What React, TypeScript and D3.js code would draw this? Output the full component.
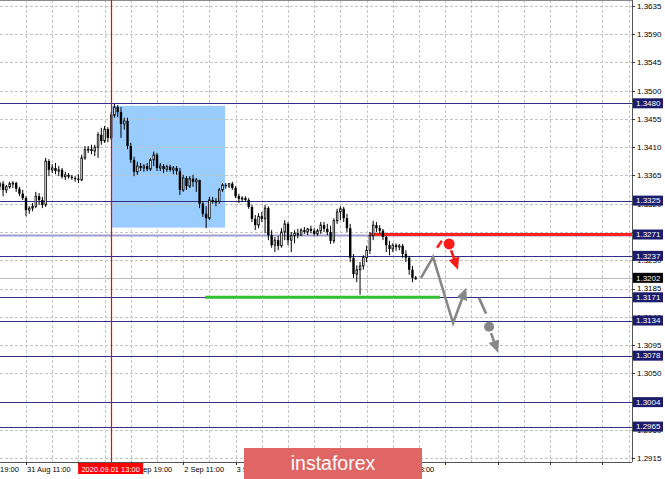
import React from 'react';
import * as d3 from 'd3';

const W = 665;
const H = 479;

// Bar index 0 = 31 Aug 03:00 (H1 bars)
const timeLabelBars = [-8, 8, 40, 56, 72, 120];
const timeLabels = ['30 Aug 19:00', '31 Aug 11:00', '1 Sep 19:00', '2 Sep 11:00', '3 Sep 03:00', '7 Sep 03:00'];

const open = [
  1.3348, 1.3352, 1.3342, 1.3347, 1.3352, 1.3353, 1.3344, 1.3336, 1.3329, 1.3310,
  1.3313, 1.3316, 1.3332, 1.3326, 1.3318, 1.3388, 1.3374, 1.3377, 1.3372, 1.3374,
  1.3363, 1.3366, 1.3363, 1.3361, 1.3360, 1.3358, 1.3393, 1.3406, 1.3407, 1.3404,
  1.3410, 1.3430, 1.3420, 1.3439, 1.3425, 1.3461, 1.3474, 1.3466, 1.3447, 1.3452,
  1.3412, 1.3390, 1.3371, 1.3380, 1.3377, 1.3380, 1.3375, 1.3390, 1.3398, 1.3377,
  1.3380, 1.3375, 1.3379, 1.3374, 1.3377, 1.3372, 1.3342, 1.3361, 1.3348, 1.3360,
  1.3355, 1.3358, 1.3320, 1.3304, 1.3297, 1.3326, 1.3323, 1.3324, 1.3342, 1.3350,
  1.3348, 1.3352, 1.3345, 1.3332, 1.3328, 1.3329, 1.3326, 1.3315, 1.3296, 1.3286,
  1.3300, 1.3296, 1.3313, 1.3270, 1.3254, 1.3262, 1.3253, 1.3275, 1.3288, 1.3262,
  1.3269, 1.3273, 1.3270, 1.3278, 1.3275, 1.3280, 1.3277, 1.3272, 1.3277, 1.3286,
  1.3280, 1.3275, 1.3261, 1.3293, 1.3307, 1.3312, 1.3297, 1.3281, 1.3234, 1.3208,
  1.3215, 1.3221, 1.3234, 1.3246, 1.3269, 1.3286, 1.3281, 1.3277, 1.3267, 1.3254,
  1.3248, 1.3254, 1.3251, 1.3253, 1.3240, 1.3234, 1.3215, 1.3202,
];
const high = [
  1.3355, 1.3356, 1.3350, 1.3355, 1.3356, 1.3355, 1.3347, 1.3342, 1.3332, 1.3316,
  1.3321, 1.3339, 1.3337, 1.3331, 1.3393, 1.3391, 1.3383, 1.3385, 1.3380, 1.3377,
  1.3371, 1.3369, 1.3366, 1.3364, 1.3367, 1.3398, 1.3412, 1.3412, 1.3414, 1.3414,
  1.3434, 1.3441, 1.3444, 1.3442, 1.3466, 1.3479, 1.3477, 1.3474, 1.3457, 1.3457,
  1.3417, 1.3395, 1.3387, 1.3385, 1.3383, 1.3385, 1.3393, 1.3403, 1.3401, 1.3385,
  1.3383, 1.3382, 1.3382, 1.3380, 1.3380, 1.3377, 1.3366, 1.3364, 1.3364, 1.3366,
  1.3361, 1.3358, 1.3324, 1.3316, 1.3331, 1.3331, 1.3329, 1.3345, 1.3353, 1.3353,
  1.3353, 1.3355, 1.3348, 1.3336, 1.3332, 1.3332, 1.3329, 1.3318, 1.3302, 1.3305,
  1.3307, 1.3318, 1.3316, 1.3278, 1.3267, 1.3269, 1.3281, 1.3294, 1.3291, 1.3275,
  1.3278, 1.3280, 1.3281, 1.3283, 1.3281, 1.3285, 1.3281, 1.3280, 1.3291, 1.3291,
  1.3288, 1.3285, 1.3297, 1.3312, 1.3316, 1.3315, 1.3304, 1.3288, 1.3240, 1.3222,
  1.3227, 1.3238, 1.3253, 1.3275, 1.3293, 1.3291, 1.3286, 1.3280, 1.3269, 1.3261,
  1.3257, 1.3257, 1.3256, 1.3256, 1.3246, 1.3237, 1.3221, 1.3205,
];
const low = [
  1.3342, 1.3332, 1.3337, 1.3344, 1.3345, 1.3339, 1.3332, 1.3326, 1.3300, 1.3304,
  1.3308, 1.3313, 1.3318, 1.3313, 1.3315, 1.3364, 1.3369, 1.3367, 1.3364, 1.3360,
  1.3358, 1.3360, 1.3358, 1.3355, 1.3353, 1.3356, 1.3390, 1.3401, 1.3399, 1.3396,
  1.3393, 1.3414, 1.3417, 1.3418, 1.3422, 1.3457, 1.3458, 1.3425, 1.3438, 1.3407,
  1.3385, 1.3364, 1.3366, 1.3372, 1.3371, 1.3372, 1.3372, 1.3380, 1.3372, 1.3372,
  1.3369, 1.3371, 1.3371, 1.3367, 1.3366, 1.3334, 1.3339, 1.3342, 1.3345, 1.3347,
  1.3339, 1.3313, 1.3299, 1.3281, 1.3294, 1.3320, 1.3316, 1.3320, 1.3339, 1.3344,
  1.3345, 1.3342, 1.3329, 1.3321, 1.3323, 1.3323, 1.3312, 1.3291, 1.3278, 1.3281,
  1.3291, 1.3273, 1.3262, 1.3250, 1.3243, 1.3246, 1.3250, 1.3262, 1.3254, 1.3243,
  1.3257, 1.3265, 1.3269, 1.3272, 1.3270, 1.3273, 1.3269, 1.3269, 1.3272, 1.3275,
  1.3270, 1.3256, 1.3257, 1.3288, 1.3294, 1.3291, 1.3275, 1.3227, 1.3202, 1.3195,
  1.3175, 1.3215, 1.3227, 1.3240, 1.3262, 1.3275, 1.3272, 1.3262, 1.3243, 1.3238,
  1.3243, 1.3245, 1.3246, 1.3234, 1.3227, 1.3207, 1.3195, 1.3199,
];
const close = [
  1.3352, 1.3342, 1.3347, 1.3352, 1.3353, 1.3344, 1.3336, 1.3329, 1.3310, 1.3313,
  1.3316, 1.3332, 1.3326, 1.3318, 1.3388, 1.3374, 1.3377, 1.3372, 1.3374, 1.3363,
  1.3366, 1.3363, 1.3361, 1.3360, 1.3358, 1.3393, 1.3406, 1.3407, 1.3404, 1.3410,
  1.3430, 1.3420, 1.3439, 1.3425, 1.3461, 1.3474, 1.3466, 1.3447, 1.3452, 1.3412,
  1.3390, 1.3371, 1.3380, 1.3377, 1.3380, 1.3375, 1.3390, 1.3398, 1.3377, 1.3380,
  1.3375, 1.3379, 1.3374, 1.3377, 1.3372, 1.3342, 1.3361, 1.3348, 1.3360, 1.3355,
  1.3358, 1.3320, 1.3304, 1.3297, 1.3326, 1.3323, 1.3324, 1.3342, 1.3350, 1.3348,
  1.3352, 1.3345, 1.3332, 1.3328, 1.3329, 1.3326, 1.3315, 1.3296, 1.3286, 1.3300,
  1.3296, 1.3313, 1.3270, 1.3254, 1.3262, 1.3253, 1.3275, 1.3288, 1.3262, 1.3269,
  1.3273, 1.3270, 1.3278, 1.3275, 1.3280, 1.3277, 1.3272, 1.3277, 1.3286, 1.3280,
  1.3275, 1.3261, 1.3293, 1.3307, 1.3312, 1.3297, 1.3281, 1.3234, 1.3208, 1.3215,
  1.3221, 1.3234, 1.3246, 1.3269, 1.3286, 1.3281, 1.3277, 1.3267, 1.3254, 1.3248,
  1.3254, 1.3251, 1.3253, 1.3240, 1.3234, 1.3215, 1.3202, 1.3202,
];

const priceTicks = [1.2915, 1.2960, 1.3005, 1.3050, 1.3095, 1.3140, 1.3185, 1.3230, 1.3275, 1.3320, 1.3365, 1.3410, 1.3455, 1.3500, 1.3545, 1.3590, 1.3635];
// tick labels fully covered by level boxes in the reference
const hiddenTickLabels = [1.3005, 1.3275];
const levelPrices = [1.3480, 1.3325, 1.3271, 1.3237, 1.3171, 1.3134, 1.3078, 1.3004, 1.2965];
const resistancePrice = 1.3271;
const resistanceFromBar = 113;
const supportPrice = 1.3171;
const supportBars = [62.7, 134.4];
const currentPrice = 1.3202;
const markerBar = 34;
const markerLabel = '2020.09.01 13:00';
const zoneBars = [34, 68.8];
const zonePrices = [1.3476, 1.3282];

// forecast arrows: [bar, price]
const grayPath = [[128.6, 1.3202], [132.3, 1.3235], [138.4, 1.3130], [142.4, 1.3186]];
const grayTail = [[146.3, 1.3170], [148.5, 1.3145]];
const grayDot = [149.4, 1.3124];
const grayArrow = [[150.0, 1.3114], [152.1, 1.3083]];
const redTail = [[133.5, 1.3250], [135.0, 1.3261]];
const redDot = [137.2, 1.3256];
const redArrow = [[137.8, 1.3246], [139.9, 1.3215]];

const FONT = '"Liberation Sans", Arial, sans-serif';

export default function App() {
  const plotRight = 632;
  const plotBottom = 462;
  const x = d3.scaleLinear().domain([0, 193]).range([-0.2, 631.875]);
  const y = d3.scaleLinear().domain([1.2915, 1.3635]).range([458, 6]);
  const line = d3.line<number[]>().x((d) => x(d[0])).y((d) => y(d[1]));

  const arrow = (pts: number[][], color: string, key: string) => {
    const px = pts.map((p) => [x(p[0]), y(p[1])]);
    const n = px.length;
    const [ax, ay] = px[n - 2];
    const [bx, by] = px[n - 1];
    const len = Math.hypot(bx - ax, by - ay);
    const ux = (bx - ax) / len;
    const uy = (by - ay) / len;
    const hl = 12;
    const hw = 5.5;
    const baseX = bx - ux * hl;
    const baseY = by - uy * hl;
    const shaft = px.slice(0, n - 1).concat([[baseX + ux * 2, baseY + uy * 2]]);
    const d = d3.line()(shaft as [number, number][]) || '';
    const tri = `${bx},${by} ${baseX - uy * hw},${baseY + ux * hw} ${baseX + uy * hw},${baseY - ux * hw}`;
    return (
      <g key={key}>
        <path d={d} fill="none" stroke={color} strokeWidth={2.6} strokeLinejoin="miter" />
        <polygon points={tri} fill={color} />
      </g>
    );
  };

  const vGrid: number[] = [];
  for (let k = 8; x(k) < plotRight - 1; k += 8) vGrid.push(k);
  const tTicks: number[] = [];
  for (let k = 8; x(k) < plotRight - 1; k += 16) tTicks.push(k);

  const bw = 2.4;
  const mx = Math.round(x(markerBar)) + 0.5;

  return (
    <svg width={W} height={H} style={{ position: 'absolute', left: 0, top: 0, background: '#fff' }} fontFamily={FONT}>
      <defs>
        <clipPath id="timeClip">
          <rect x={0} y={462} width={244} height={17} />
          <rect x={422} y={462} width={210} height={17} />
        </clipPath>
      </defs>
      <rect x={0} y={0} width={W} height={H} fill="#fff" />
      {/* zone rectangle */}
      <rect
        x={x(zoneBars[0])}
        y={y(zonePrices[0])}
        width={x(zoneBars[1]) - x(zoneBars[0])}
        height={y(zonePrices[1]) - y(zonePrices[0])}
        fill="#99ccff"
      />
      {/* grid */}
      {priceTicks.map((p) => (
        <line key={'hg' + p} x1={0} x2={plotRight} y1={Math.round(y(p)) + 0.5} y2={Math.round(y(p)) + 0.5} stroke="#c4c4c4" strokeDasharray="3,2" />
      ))}
      {vGrid.map((k) => (
        <line key={'vg' + k} x1={Math.round(x(k)) + 0.5} x2={Math.round(x(k)) + 0.5} y1={0} y2={plotBottom} stroke="#c4c4c4" strokeDasharray="3,2" />
      ))}
      {/* frame */}
      <line x1={0} x2={plotRight} y1={0.5} y2={0.5} stroke="#8a8a8a" />
      <line x1={plotRight + 0.5} x2={plotRight + 0.5} y1={0} y2={plotBottom} stroke="#555" />
      <line x1={0} x2={plotRight} y1={plotBottom + 0.5} y2={plotBottom + 0.5} stroke="#555" />
      {/* bid line */}
      <line x1={0} x2={plotRight} y1={Math.round(y(currentPrice)) + 0.5} y2={Math.round(y(currentPrice)) + 0.5} stroke="#bdbdbd" />
      {/* horizontal levels */}
      {levelPrices.map((p) => (
        <line
          key={'lv' + p}
          x1={0}
          x2={plotRight}
          y1={Math.round(y(p)) + 0.5}
          y2={Math.round(y(p)) + 0.5}
          stroke={p === resistancePrice ? '#9c9cd0' : '#30308a'}
          strokeWidth={p === resistancePrice ? 2 : 1}
        />
      ))}
      {/* support / resistance */}
      <line x1={x(supportBars[0])} x2={x(supportBars[1])} y1={y(supportPrice)} y2={y(supportPrice)} stroke="#2fbf2f" strokeWidth={3} />
      <line x1={x(resistanceFromBar)} x2={plotRight} y1={y(resistancePrice)} y2={y(resistancePrice)} stroke="#ff2020" strokeWidth={3} />
      {/* candles */}
      {open.map((o, i) => {
        const c = close[i];
        const cx = x(i);
        const bull = c >= o;
        const top = y(Math.max(o, c));
        const bot = y(Math.min(o, c));
        const h = Math.max(1, bot - top);
        return (
          <g key={'c' + i}>
            <line x1={cx} x2={cx} y1={y(high[i])} y2={y(low[i])} stroke="#000" strokeWidth={1} />
            {bull ? (
              <rect x={cx - bw / 2 + 0.4} y={top} width={bw - 0.8} height={h} fill="#fff" stroke="#000" strokeWidth={0.8} />
            ) : (
              <rect x={cx - bw / 2} y={top} width={bw} height={h} fill="#000" />
            )}
          </g>
        );
      })}
      {/* marker vertical line */}
      <line x1={mx} x2={mx} y1={0} y2={plotBottom} stroke="#ff0000" strokeWidth={1.2} />
      {/* forecast arrows */}
      {arrow(grayPath, '#878787', 'ga')}
      <path d={line(grayTail as any) || ''} stroke="#878787" strokeWidth={2.6} fill="none" />
      <circle cx={x(grayDot[0])} cy={y(grayDot[1])} r={5} fill="#878787" />
      {arrow(grayArrow, '#878787', 'gb')}
      <path d={line(redTail as any) || ''} stroke="#ff1a1a" strokeWidth={2.6} fill="none" />
      <circle cx={x(redDot[0])} cy={y(redDot[1])} r={5.5} fill="#ff1a1a" />
      {arrow(redArrow, '#ff1a1a', 'ra')}
      {/* price axis */}
      {priceTicks.map((p) => (
        <g key={'pt' + p}>
          <line x1={plotRight} x2={plotRight + 3} y1={Math.round(y(p)) + 0.5} y2={Math.round(y(p)) + 0.5} stroke="#333" />
          {hiddenTickLabels.includes(p) ? null : (
            <text x={637} y={y(p)} dy="0.35em" fontSize={8} fill="#000">
              {p.toFixed(4)}
            </text>
          )}
        </g>
      ))}
      {levelPrices.map((p) => (
        <g key={'lb' + p}>
          <rect x={633} y={y(p) - 5} width={30} height={10} fill="#1c1c6c" />
          <text x={636} y={y(p)} dy="0.35em" fontSize={8} fill="#fff">
            {p.toFixed(4)}
          </text>
        </g>
      ))}
      <rect x={633} y={y(currentPrice) - 5} width={30} height={10} fill="#000" />
      <text x={636} y={y(currentPrice)} dy="0.35em" fontSize={8} fill="#fff">
        {currentPrice.toFixed(4)}
      </text>
      {/* time axis */}
      {tTicks.map((k) => (
        <line key={'tt' + k} x1={Math.round(x(k)) + 0.5} x2={Math.round(x(k)) + 0.5} y1={plotBottom} y2={plotBottom + 3} stroke="#333" />
      ))}
      <g clipPath="url(#timeClip)">
        {timeLabelBars.map((k, i) => (
          <text key={'tl' + k} x={x(k) + 1} y={472} fontSize={7.5} fill="#000">
            {timeLabels[i]}
          </text>
        ))}
      </g>
      <rect x={x(markerBar) - 33} y={463} width={65} height={11} fill="#ff0000" />
      <text x={x(markerBar) - 0.5} y={472} fontSize={7.5} fill="#fff" textAnchor="middle">
        {markerLabel}
      </text>
      {/* logo */}
      <rect x={244} y={448} width={178} height={40} fill="#e06565" />
      <text x={333} y={470} fontSize={19.5} fill="#fff" textAnchor="middle" fontFamily={FONT}>
        instaforex
      </text>
    </svg>
  );
}
